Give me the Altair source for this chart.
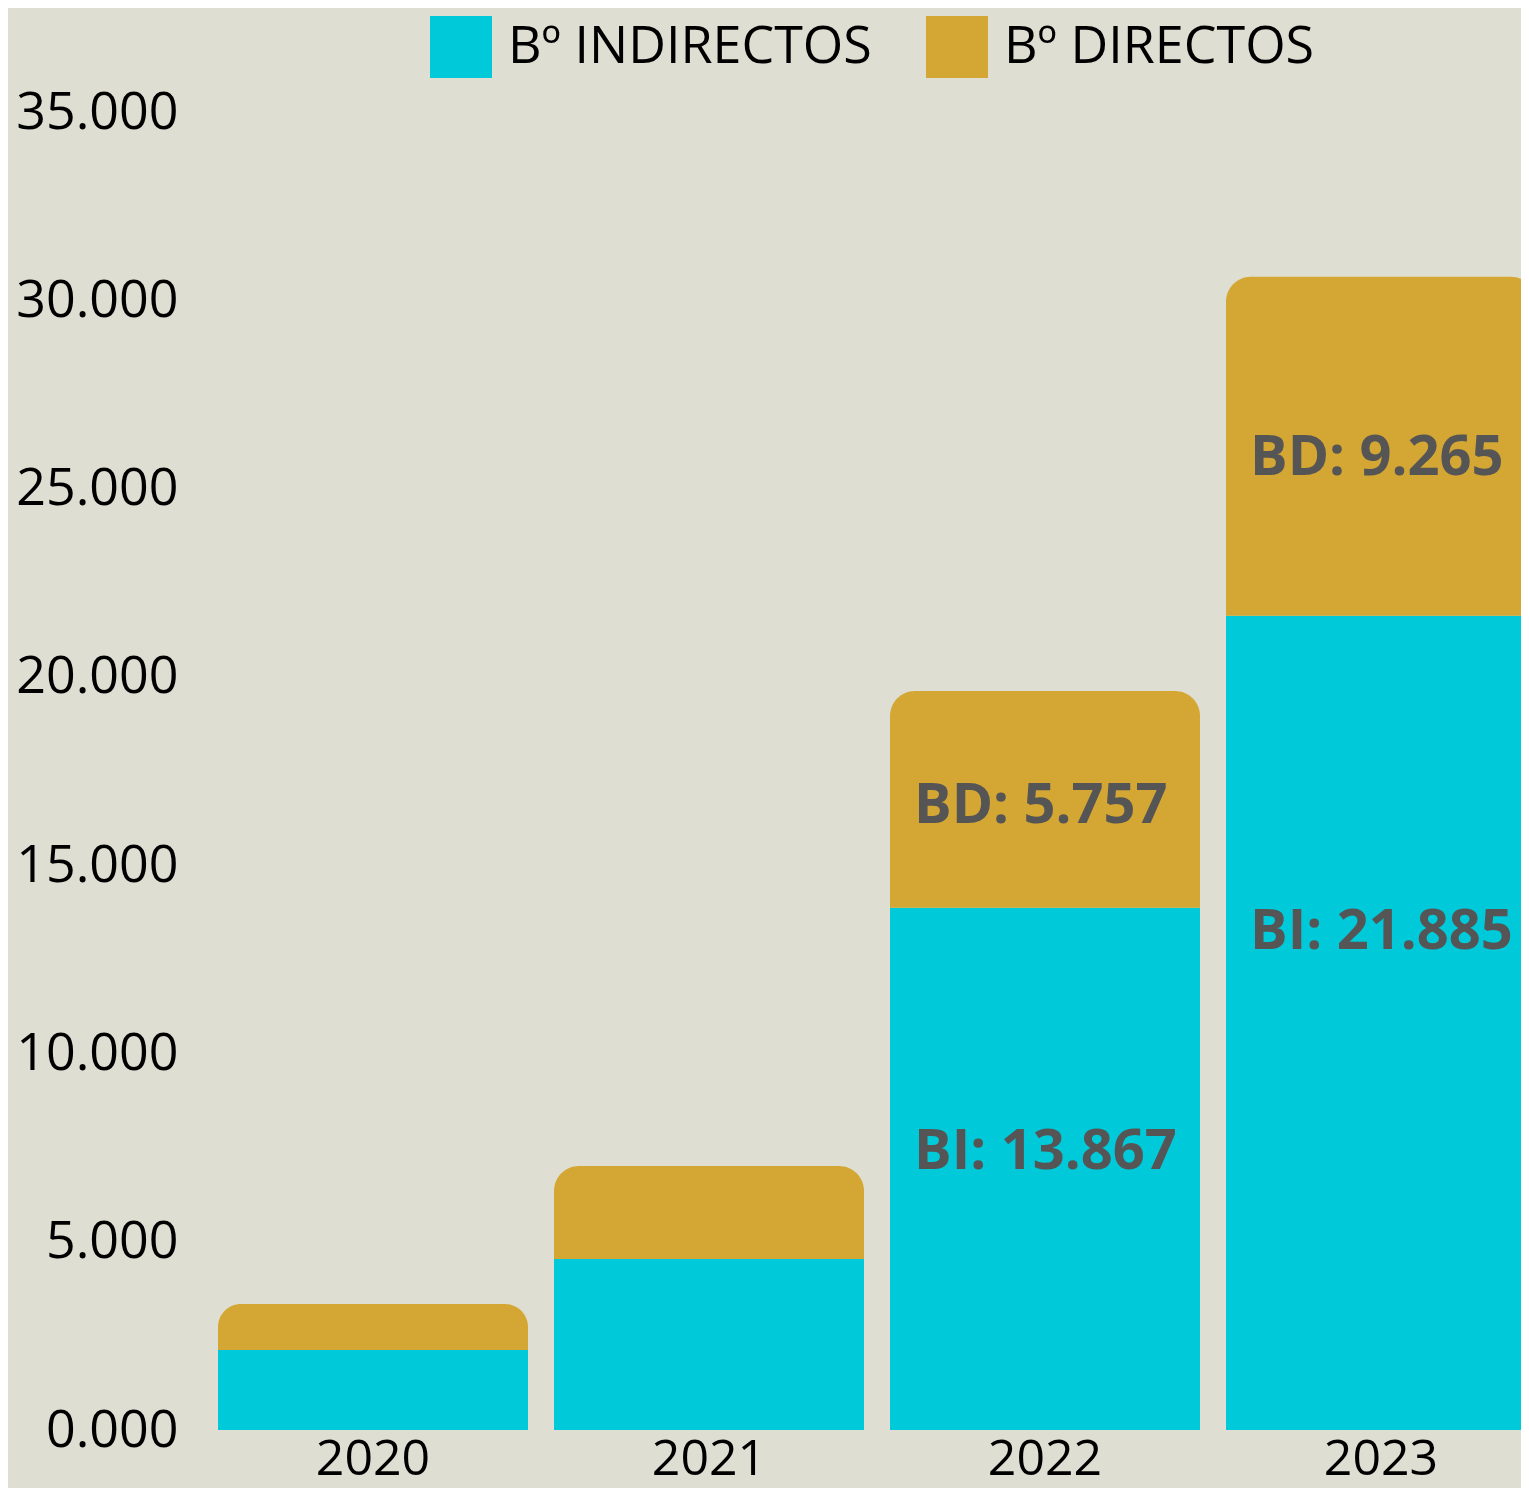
import altair as alt
import pandas as pd

# ---- data ----
years = ["2020", "2021", "2022", "2023"]
series_names = ["Bº INDIRECTOS", "Bº DIRECTOS"]
bi_values = [2124, 4541, 13867, 21624]   # Bº INDIRECTOS (bar heights)
bd_values = [1222, 2470, 5757, 9003]     # Bº DIRECTOS (bar heights)

label_years = ["2022", "2022", "2023", "2023"]
label_texts = ["BD: 5.757", "BI: 13.867", "BD: 9.265", "BI: 21.885"]
label_anchor = [16571, 7382, 25812, 13225]  # label anchor in data units

y_ticks = [0, 5000, 10000, 15000, 20000, 25000, 30000, 35000]

colors = ["#00C9DA", "#D4A734"]
bg = "#DEDFD2"
FONT = "Open Sans"

# ---- tables ----
rows = []
for yr, bi, bd in zip(years, bi_values, bd_values):
    rows.append({"year": yr, "serie": series_names[0], "start": 0, "end": bi})
    rows.append({"year": yr, "serie": series_names[1], "start": bi, "end": bi + bd})
bars_df = pd.DataFrame(rows)
labels_df = pd.DataFrame({"year": label_years, "text": label_texts, "pos": label_anchor})

step = 336
x_enc = alt.X(
    "year:N",
    sort=years,
    scale=alt.Scale(range=[0, step * 4], paddingInner=26 / step, paddingOuter=13 / step),
    axis=alt.Axis(
        title=None, labelAngle=0, ticks=False, domain=False, grid=False,
        labelFont=FONT, labelFontSize=50, labelColor="#000000", labelPadding=4,
    ),
)
y_scale = alt.Scale(domain=[0, 35000], nice=False, zero=True)
y_axis = alt.Axis(
    title=None, values=y_ticks, ticks=False, domain=False, grid=False,
    labelExpr="format(datum.value / 1000, '.3f')",
    labelFont=FONT, labelFontSize=52, labelColor="#000000", labelPadding=27,
)
color_enc = alt.Color(
    "serie:N",
    scale=alt.Scale(domain=series_names, range=colors),
    legend=alt.Legend(
        title=None, orient="none", legendX=225, legendY=-96, direction="horizontal",
        symbolType="square", symbolSize=3844, symbolStrokeWidth=0, symbolOpacity=1,
        labelFont=FONT, labelFontSize=52, labelColor="#000000", labelOffset=16,
        labelLimit=600, columnPadding=54, padding=0,
    ),
)

base = alt.Chart(bars_df)
bi_bars = base.transform_filter(f"datum.serie == '{series_names[0]}'").mark_bar(clip=True).encode(
    x=x_enc,
    y=alt.Y("end:Q", scale=y_scale, axis=y_axis),
    y2="start:Q",
    color=color_enc,
)
bd_bars = base.transform_filter(f"datum.serie == '{series_names[1]}'").mark_bar(
    clip=True, cornerRadiusTopLeft=25, cornerRadiusTopRight=25
).encode(
    x=x_enc,
    y=alt.Y("end:Q", scale=y_scale, axis=y_axis),
    y2="start:Q",
    color=color_enc,
)
texts = alt.Chart(labels_df).mark_text(
    align="left", baseline="middle", dx=-131, font=FONT, fontSize=56,
    fontWeight="bold", color="#555555",
).encode(
    x=x_enc,
    y=alt.Y("pos:Q", scale=y_scale, axis=y_axis),
    text="text:N",
)

chart = alt.layer(bi_bars, bd_bars, texts).properties(
    width=1316,
    height=1318,
    autosize=alt.AutoSizeParams(type="none"),
    padding={"left": 197, "top": 104, "right": 0, "bottom": 58},
    background=bg,
).configure_view(stroke=None)

chart.save("out.html", embed_options={"renderer": "svg", "actions": False})
